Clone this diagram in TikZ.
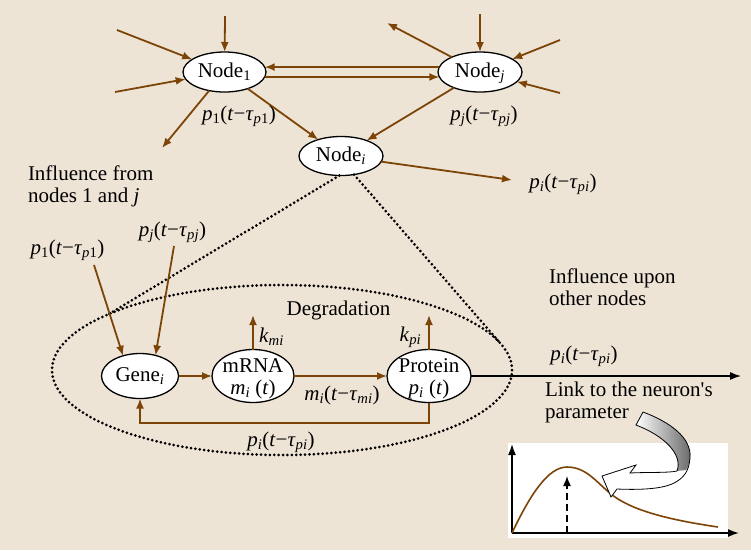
\documentclass[tikz,border=0pt]{standalone}
\usepackage{fontspec}
\setmainfont{Liberation Serif}
\usetikzlibrary{arrows.meta,shapes.geometric}
\definecolor{bgc}{RGB}{238,228,214}
\definecolor{brn}{RGB}{124,68,6}
\newcommand\dl[3]{\textit{#1}\textsubscript{#2}(\textit{t}−\textit{τ}\textsubscript{#3})}
\newcommand\ctr[1]{\smash{\makebox[0pt]{\raisebox{-5.5pt}{#1}}}}
\newcommand\ctrtwo[2]{\smash{\makebox[0pt]{\raisebox{-8pt}{\begin{tabular}{@{}c@{}}#1\\#2\end{tabular}}}}}
\begin{document}
\begin{tikzpicture}[x=1pt,y=-1pt,
  every node/.style={font=\fontsize{21}{22}\selectfont, inner sep=0pt, outer sep=0pt},
  ell/.style={ellipse, draw=black, line width=1.3pt, fill=white},
  barrow/.style={draw=brn, line width=1.8pt, -{Latex[length=10pt,width=8pt]}},
  karrow/.style={draw=black, line width=1.3pt, -{Latex[length=11pt,width=8pt]}},
  dotline/.style={draw=black, line width=3pt, dash pattern=on 0pt off 4.4pt, line cap=round},
  txt/.style={align=left, anchor=west}]
\fill[bgc] (0,0) rectangle (751,550);
\useasboundingbox (0,0) rectangle (751,550);

% nodes of the network
\node[ell, minimum width=83pt, minimum height=40pt] (n1) at (224.5,72) {\ctr{Node\textsubscript{1}}};
\node[ell, minimum width=84pt, minimum height=40pt] (nj) at (480,72) {\ctr{Node\textsubscript{\textit{j}}}};
\node[ell, minimum width=84pt, minimum height=39pt] (ni) at (341,156) {\ctr{Node\textsubscript{\textit{i}}}};

% free ends
\coordinate (c1t) at (225,16);
\coordinate (c1a) at (117,30);
\coordinate (c1b) at (115,92);
\coordinate (c1c) at (162,148);
\coordinate (cjt) at (480,14);
\coordinate (cju) at (387,23);
\coordinate (cja) at (560,40);
\coordinate (cjb) at (560,93);
\coordinate (cpi) at (512,180);

\draw[barrow] (c1t) -- (n1);
\draw[barrow] (c1a) -- (n1);
\draw[barrow] (c1b) -- (n1);
\draw[barrow] (n1) -- (c1c);
\draw[barrow] (nj.173) -- (n1.7);
\draw[barrow] (n1.-7) -- (nj.187);
\draw[barrow] (n1) -- (ni);
\draw[barrow] (nj) -- (ni);
\draw[barrow] (cjt) -- (nj);
\draw[barrow] (nj) -- (cju);
\draw[barrow] (cja) -- (nj);
\draw[barrow] (cjb) -- (nj);
\draw[barrow] (ni) -- (cpi);

\node (lp1) at (239,116) {\dl{p}{1}{\textit{p}1}};
\node (lpj) at (484,116) {\dl{p}{\textit{j}}{\textit{pj}}};
\node (lpi) at (563,184) {\dl{p}{\textit{i}}{\textit{pi}}};

% cell
\node[ellipse, dotline, minimum width=460pt, minimum height=170pt] (cell) at (282,370) {};
\draw[dotline] (ni.-95) -- (cell.162);
\draw[dotline] (ni.-55) -- (cell.7.4);

\node[txt] (infrom) at (28,186) {Influence from\\nodes 1 and \textit{j}};
\node (lp1b) at (67.5,250) {\dl{p}{1}{\textit{p}1}};
\node (lpjb) at (172.5,232) {\dl{p}{\textit{j}}{\textit{pj}}};

\node[ell, minimum width=77pt, minimum height=45pt] (gene) at (140,376) {\ctr{Gene\textsubscript{\textit{i}}}};
\node[ell, minimum width=82pt, minimum height=53pt] (mrna) at (253,376) {\ctrtwo{mRNA}{\textit{m}\textsubscript{\textit{i}} (\textit{t})}};
\node[ell, minimum width=84pt, minimum height=53pt] (prot) at (429,376) {\ctrtwo{Protein}{\textit{p}\textsubscript{\textit{i}} (\textit{t})}};

\coordinate (cp1) at (94,265);
\coordinate (cpj) at (174,246);
\draw[barrow] (cp1) -- (gene.130);
\draw[barrow] (cpj) -- (gene.53);
\draw[barrow] (gene) -- (mrna);
\draw[barrow] (mrna) -- (prot);
\coordinate (km) at (253,315);
\coordinate (kp) at (429,315);
\draw[barrow] (mrna.north) -- (km);
\draw[barrow] (prot.north) -- (kp);
\coordinate (fbr) at (429,423);
\draw[barrow] (prot.south) -- (fbr) -| (gene.south);

\node (deg) at (338.5,310) {Degradation};
\node (lkm) at (271.5,337) {\textit{k}\textsubscript{\textit{mi}}};
\node (lkp) at (410.5,337) {\textit{k}\textsubscript{\textit{pi}}};
\node (lmi) at (342,395) {\dl{m}{\textit{i}}{\textit{mi}}};
\node (lpfb) at (281,442) {\dl{p}{\textit{i}}{\textit{pi}}};

\coordinate (cout) at (741,376);
\draw[karrow] (prot) -- (cout);
\node (lpo) at (584,356) {\dl{p}{\textit{i}}{\textit{pi}}};
\node[txt] (inup) at (549,287) {Influence upon\\other nodes};
\node[txt] (link) at (545,402) {Link to the neuron\textquotesingle s\\parameter};

% inset plot
\fill[white] (508,443) rectangle (728,538);
\coordinate (org) at (512,533);
\coordinate (ytop) at (512,444);
\coordinate (xend) at (739,533);
\draw[karrow, line width=1.5pt] (org) -- (ytop);
\draw[karrow, line width=1.5pt] (org) -- (xend);
\draw[brn, line width=1.6pt] (org) .. controls (530,495) and (548,467) .. (567,467)
  .. controls (588,467) and (598,485) .. (615,497)
  .. controls (635,511) and (670,520) .. (718,527);
\coordinate (pk0) at (567,533);
\coordinate (pk1) at (567,476);
\draw[black, line width=1.5pt, dash pattern=on 7pt off 4pt, -{Latex[length=10pt,width=8pt]}] (pk0) -- (pk1);

% curved block arrow
\fill[white] (643,412) .. controls (670,422) and (692,438) .. (690,458)
  .. controls (689,470) and (685,478) .. (672,484)
  .. controls (660,489) and (640,490) .. (617,489)
  -- (611,497) -- (602,476) -- (636,465) -- (630,473)
  .. controls (650,472) and (668,473) .. (677,471)
  .. controls (683,455) and (665,436) .. (636,425) -- cycle;
\shade[left color=white, right color=black!60] (643,412) .. controls (670,422) and (692,438) .. (690,458)
  .. controls (689,464) and (688,468) .. (686,470) -- (677,471)
  .. controls (683,455) and (665,436) .. (636,425) -- cycle;
\draw[black, line width=0.8pt] (643,412) .. controls (670,422) and (692,438) .. (690,458)
  .. controls (689,470) and (685,478) .. (672,484)
  .. controls (660,489) and (640,490) .. (617,489)
  -- (611,497) -- (602,476) -- (636,465) -- (630,473)
  .. controls (650,472) and (668,473) .. (677,471)
  .. controls (683,455) and (665,436) .. (636,425) -- cycle;
\end{tikzpicture}
\end{document}
